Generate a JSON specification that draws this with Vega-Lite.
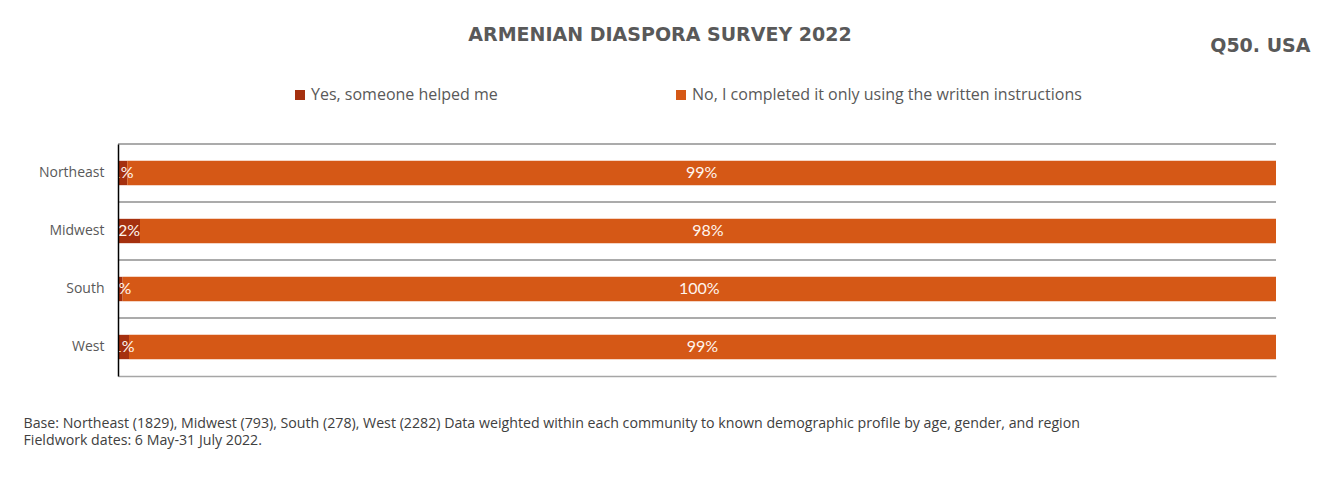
{
  "$schema": "https://vega.github.io/schema/vega-lite/v6.json",
  "width": 1158,
  "height": 232,
  "autosize": {"type": "none"},
  "padding": {"left": 118, "top": 144, "right": 48, "bottom": 105},
  "background": "white",
  "title": {
    "text": "ARMENIAN DIASPORA SURVEY 2022",
    "anchor": "middle",
    "frame": "group",
    "dx": -37,
    "offset": -9,
    "font": "DejaVu Sans",
    "fontSize": 19,
    "fontWeight": "bold",
    "color": "#595959"
  },
  "data": {
    "values": [
      {"region": "Northeast", "response": "Yes, someone helped me", "pct": 0.008},
      {"region": "Northeast", "response": "No, I completed it only using the written instructions", "pct": 0.992},
      {"region": "Midwest", "response": "Yes, someone helped me", "pct": 0.019},
      {"region": "Midwest", "response": "No, I completed it only using the written instructions", "pct": 0.981},
      {"region": "South", "response": "Yes, someone helped me", "pct": 0.004},
      {"region": "South", "response": "No, I completed it only using the written instructions", "pct": 0.996},
      {"region": "West", "response": "Yes, someone helped me", "pct": 0.0095},
      {"region": "West", "response": "No, I completed it only using the written instructions", "pct": 0.9905}
    ]
  },
  "transform": [
    {"stack": "pct", "groupby": ["region"], "sort": [{"field": "response", "order": "descending"}], "as": ["x0", "x1"]},
    {"calculate": "(datum.x0 + datum.x1) / 2", "as": "mid"}
  ],
  "encoding": {
    "y": {
      "field": "region",
      "type": "nominal",
      "sort": ["Northeast", "Midwest", "South", "West"],
      "scale": {"paddingInner": 0.58, "paddingOuter": 0.29},
      "axis": {
        "title": null,
        "ticks": false,
        "grid": false,
        "domain": true,
        "domainColor": "#000000",
        "domainWidth": 1.5,
        "labelFont": "Open Sans",
        "labelFontSize": 14,
        "labelColor": "#595959",
        "labelPadding": 14,
        "zindex": 2
      }
    }
  },
  "resolve": {"axis": {"x": "independent"}},
  "layer": [
    {
      "mark": {"type": "rule", "color": "#a6a6a6", "strokeWidth": 1.5},
      "encoding": {
        "y": {"field": "region", "type": "nominal", "sort": ["Northeast", "Midwest", "South", "West"], "bandPosition": -0.6905}
      }
    },
    {
      "mark": {"type": "bar"},
      "encoding": {
        "x": {
          "field": "x0",
          "type": "quantitative",
          "scale": {"domain": [0, 1], "nice": false},
          "axis": {
            "orient": "bottom",
            "labels": false,
            "ticks": false,
            "grid": false,
            "domain": true,
            "domainColor": "#a6a6a6",
            "domainWidth": 1.5,
            "title": [
              "Base: Northeast (1829), Midwest (793), South  (278), West (2282) Data weighted within each community to known demographic profile by age, gender, and region",
              "Fieldwork dates: 6 May-31 July 2022."
            ],
            "titleFont": "Open Sans",
            "titleFontSize": 14.2,
            "titleFontWeight": "normal",
            "titleColor": "#404040",
            "titleAlign": "left",
            "titleAnchor": "start",
            "titleBaseline": "alphabetic",
            "titleLineHeight": 17,
            "titleX": -95,
            "titleY": 51
          }
        },
        "x2": {"field": "x1"},
        "color": {
          "field": "response",
          "type": "nominal",
          "scale": {
            "domain": ["Yes, someone helped me", "No, I completed it only using the written instructions"],
            "range": ["#A5300F", "#D55816"]
          },
          "legend": {
            "title": null,
            "orient": "none",
            "direction": "horizontal",
            "legendX": 174,
            "legendY": -57,
            "symbolType": "square",
            "symbolSize": 100,
            "symbolStrokeWidth": 0,
            "labelFont": "Open Sans",
            "labelFontSize": 16,
            "labelColor": "#595959",
            "labelOffset": 3,
            "labelLimit": 600,
            "columnPadding": 175
          }
        }
      }
    },
    {
      "mark": {"type": "text", "clip": true, "color": "#FFF5EE", "font": "Lato", "fontSize": 16, "align": "center", "baseline": "middle"},
      "encoding": {
        "x": {
          "field": "mid",
          "type": "quantitative",
          "axis": {
            "orient": "top",
            "labels": false,
            "ticks": false,
            "grid": false,
            "domain": false,
            "title": "Q50. USA",
            "titleFont": "DejaVu Sans",
            "titleFontSize": 19,
            "titleFontWeight": "bold",
            "titleColor": "#595959",
            "titleAlign": "right",
            "titleAnchor": "end",
            "titleBaseline": "alphabetic",
            "titleX": 1192,
            "titleY": -93
          }
        },
        "text": {"field": "pct", "type": "quantitative", "format": ".0%"}
      }
    }
  ],
  "config": {"view": {"stroke": null}}
}
